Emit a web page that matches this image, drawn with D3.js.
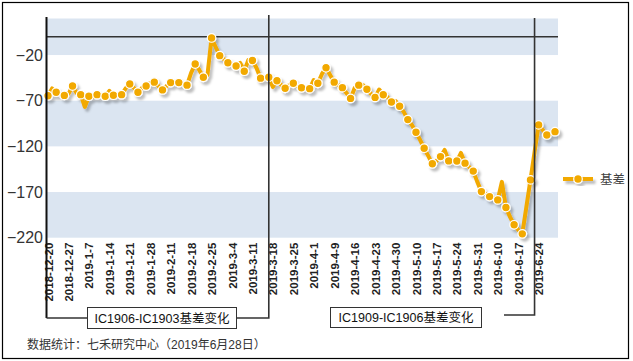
<!DOCTYPE html>
<html>
<head>
<meta charset="utf-8">
<script src="https://cdn.jsdelivr.net/npm/d3@7"></script>
<style>
html,body{margin:0;padding:0;background:#fff;}
svg{display:block;}
</style>
</head>
<body>
<svg id="chart" width="633" height="361"></svg>
<script>
const dates = [
"2018-12-20","2018-12-21","2018-12-24","2018-12-25","2018-12-26","2018-12-27","2018-12-28",
"2019-1-2","2019-1-3","2019-1-4","2019-1-7","2019-1-8","2019-1-9","2019-1-10","2019-1-11",
"2019-1-14","2019-1-15","2019-1-16","2019-1-17","2019-1-18","2019-1-21","2019-1-22","2019-1-23",
"2019-1-24","2019-1-25","2019-1-28","2019-1-29","2019-1-30","2019-1-31",
"2019-2-1","2019-2-11","2019-2-12","2019-2-13","2019-2-14","2019-2-15","2019-2-18","2019-2-19",
"2019-2-20","2019-2-21","2019-2-22","2019-2-25","2019-2-26","2019-2-27","2019-2-28",
"2019-3-1","2019-3-4","2019-3-5","2019-3-6","2019-3-7","2019-3-8","2019-3-11","2019-3-12",
"2019-3-13","2019-3-14","2019-3-15","2019-3-18","2019-3-19","2019-3-20","2019-3-21","2019-3-22",
"2019-3-25","2019-3-26","2019-3-27","2019-3-28","2019-3-29",
"2019-4-1","2019-4-2","2019-4-3","2019-4-4","2019-4-8","2019-4-9","2019-4-10","2019-4-11",
"2019-4-12","2019-4-15","2019-4-16","2019-4-17","2019-4-18","2019-4-19","2019-4-22","2019-4-23",
"2019-4-24","2019-4-25","2019-4-26","2019-4-29","2019-4-30",
"2019-5-6","2019-5-7","2019-5-8","2019-5-9","2019-5-10","2019-5-13","2019-5-14","2019-5-15",
"2019-5-16","2019-5-17","2019-5-20","2019-5-21","2019-5-22","2019-5-23","2019-5-24","2019-5-27",
"2019-5-28","2019-5-29","2019-5-30","2019-5-31",
"2019-6-3","2019-6-4","2019-6-5","2019-6-6","2019-6-10","2019-6-11","2019-6-12","2019-6-13",
"2019-6-14","2019-6-17","2019-6-18","2019-6-19","2019-6-20","2019-6-21","2019-6-24","2019-6-25",
"2019-6-26","2019-6-27","2019-6-28"
];
const basis = [
-64.5,-56.6,-60.7,-62.6,-64.2,-62.6,-53.9,-61.5,-63.4,-76.8,
-65.1,-65.9,-63.4,-64.2,-65.1,-59.3,-64.0,-63.7,-63.4,-56.6,
-51.7,-56.0,-60.7,-56.0,-53.9,-50.6,-49.7,-53.9,-58.2,-53.9,
-50.2,-50.6,-50.2,-51.7,-53.0,-39.6,-29.8,-36.3,-44.3,-41.8,
-1.3,-11.2,-20.7,-24.3,-28.4,-29.8,-32.0,-28.7,-37.7,-25.4,
-26.0,-34.2,-45.3,-46.2,-44.3,-54.9,-48.1,-52.8,-56.4,-52.8,
-50.9,-53.9,-55.8,-57.1,-56.8,-47.3,-50.9,-40.7,-33.9,-41.8,
-49.7,-52.8,-55.7,-61.5,-67.5,-56.0,-53.0,-52.8,-57.5,-62.6,
-66.4,-57.7,-63.5,-65.9,-71.4,-70.3,-76.0,-82.3,-90.7,-96.5,
-104.5,-112.9,-122.0,-130.4,-139.0,-135.9,-131.2,-123.9,-135.9,-137.0,
-136.1,-127.2,-138.4,-142.5,-147.1,-158.9,-169.5,-172.0,-175.0,-176.4,
-178.6,-158.9,-187.0,-197.2,-205.9,-211.4,-215.8,-186.2,-156.7,-126.1,
-96.5,-102.0,-107.5,-106.4,-103.9
];
const yTicks = [-220,-170,-120,-70,-20];
const bandStarts = [-220,-120,-20];   // shaded bands
const seriesName = "基差";
const rollDates = ["2019-3-15","2019-6-21"];
const annotations = ["IC1906-IC1903基差变化","IC1909-IC1906基差变化"];
const footer = "数据统计：七禾研究中心（2019年6月28日）";

const svg = d3.select("#chart");
const latin = "'Liberation Sans', Arial, sans-serif";
const cjk = "'Liberation Sans', 'Noto Sans CJK SC', sans-serif";
const orange = "#F2A900";

// outer border
svg.append("rect").attr("x",2.5).attr("y",2.5).attr("width",626).attr("height",356)
  .attr("fill","#fff").attr("stroke","#000").attr("stroke-width",1.2);

const plotL = 47, plotR = 558;
const x = d3.scalePoint().domain(dates).range([48, 555]);
const y = d3.scaleLinear().domain([-220, 20]).range([237.7, 18.5]);

// bands
svg.append("g").selectAll("rect").data(bandStarts).join("rect")
  .attr("x", plotL).attr("width", plotR - plotL)
  .attr("y", d => y(Math.min(d + 50, 20)))
  .attr("height", d => y(d) - y(Math.min(d + 50, 20)))
  .attr("fill", "#DBE5F1");

// y axis labels
const yAxis = d3.axisLeft(y).tickValues(yTicks).tickSize(0).tickPadding(4);
const gy = svg.append("g").attr("transform", `translate(${plotL},0)`).call(yAxis);
gy.select(".domain").remove();
gy.selectAll("text").attr("font-family", latin).attr("font-size", 16).attr("fill", "#333");

// x axis labels (every 5th)
const xAxis = d3.axisBottom(x).tickValues(dates.filter((d,i)=> i % 5 === 0)).tickSize(0).tickPadding(0);
const gx = svg.append("g").attr("transform", `translate(0,${y(-220)})`).call(xAxis);
gx.select(".domain").remove();
gx.selectAll("text")
  .attr("font-family", latin).attr("font-size", 11.5).attr("font-weight", "bold").attr("fill", "#222")
  .attr("transform", "rotate(-90)")
  .attr("text-anchor", "end")
  .attr("dy", "0.35em")
  .attr("x", -5).attr("y", 0);

// zero line
svg.append("line").attr("x1", plotL).attr("x2", plotR)
  .attr("y1", y(0)).attr("y2", y(0)).attr("stroke", "#333").attr("stroke-width", 1.5);

// shadow filter
const defs = svg.append("defs");
const f = defs.append("filter").attr("id","sh").attr("x","-10%").attr("y","-10%").attr("width","130%").attr("height","130%");
f.append("feDropShadow").attr("dx",2.5).attr("dy",3).attr("stdDeviation",1)
  .attr("flood-color","#000").attr("flood-opacity",0.25);

// series
const idx = d3.range(basis.length);
const line = d3.line().x(i => x(dates[i])).y(i => y(basis[i]));
const gs = svg.append("g").attr("filter","url(#sh)");
gs.append("path").datum(idx).attr("d", line)
  .attr("fill","none").attr("stroke", orange).attr("stroke-width", 4).attr("stroke-linejoin","round");
gs.selectAll("circle").data(idx.filter(i => i % 2 === 0)).join("circle")
  .attr("cx", i => x(dates[i])).attr("cy", i => y(basis[i])).attr("r", 4.3)
  .attr("fill", orange).attr("stroke", "#fff").attr("stroke-width", 1.2);

// y axis line (also left side of first bracket)
svg.append("line").attr("x1", 46.5).attr("x2", 46.5).attr("y1", 17).attr("y2", 318)
  .attr("stroke", "#111").attr("stroke-width", 2);

// brackets
const r1 = x(rollDates[0]), r2 = x(rollDates[1]);
const br = svg.append("g").attr("stroke", "#333").attr("stroke-width", 1.6).attr("fill","none");
br.append("polyline").attr("points", `46.5,318 87,318`);
br.append("polyline").attr("points", `237,318 ${r1},318 ${r1},15`);
br.append("polyline").attr("points", `504,315 ${r2},315 ${r2},18`);

// annotation boxes
const boxes = [{x:87.5, y:307.5, w:149, h:21, t:annotations[0]},
               {x:330.5, y:307.5, w:151, h:20, t:annotations[1]}];
boxes.forEach(b => {
  svg.append("rect").attr("x", b.x).attr("y", b.y).attr("width", b.w).attr("height", b.h)
    .attr("fill","#fff").attr("stroke","#333").attr("stroke-width",1);
  svg.append("text").attr("x", b.x + b.w/2).attr("y", b.y + b.h/2).attr("dy","0.36em")
    .attr("text-anchor","middle").attr("font-family", cjk).attr("font-size", 12.5).attr("fill","#111")
    .text(b.t);
});

// legend
const lg = svg.append("g").attr("transform","translate(563,179)");
const lgs = lg.append("g").attr("filter","url(#sh)");
lgs.append("line").attr("x1",0).attr("x2",30).attr("y1",0).attr("y2",0)
  .attr("stroke", orange).attr("stroke-width",4);
lgs.append("circle").attr("cx",15).attr("cy",0).attr("r",4.3)
  .attr("fill",orange).attr("stroke","#fff").attr("stroke-width",1.2);
lg.append("text").attr("x",37).attr("y",0).attr("dy","0.36em")
  .attr("font-family", cjk).attr("font-size",12.5).attr("fill","#404040").text(seriesName);

// footer
svg.append("text").attr("x", 27).attr("y", 345).attr("dy","0.36em")
  .attr("font-family", cjk).attr("font-size", 12).attr("fill","#333").text(footer);
</script>
</body>
</html>
